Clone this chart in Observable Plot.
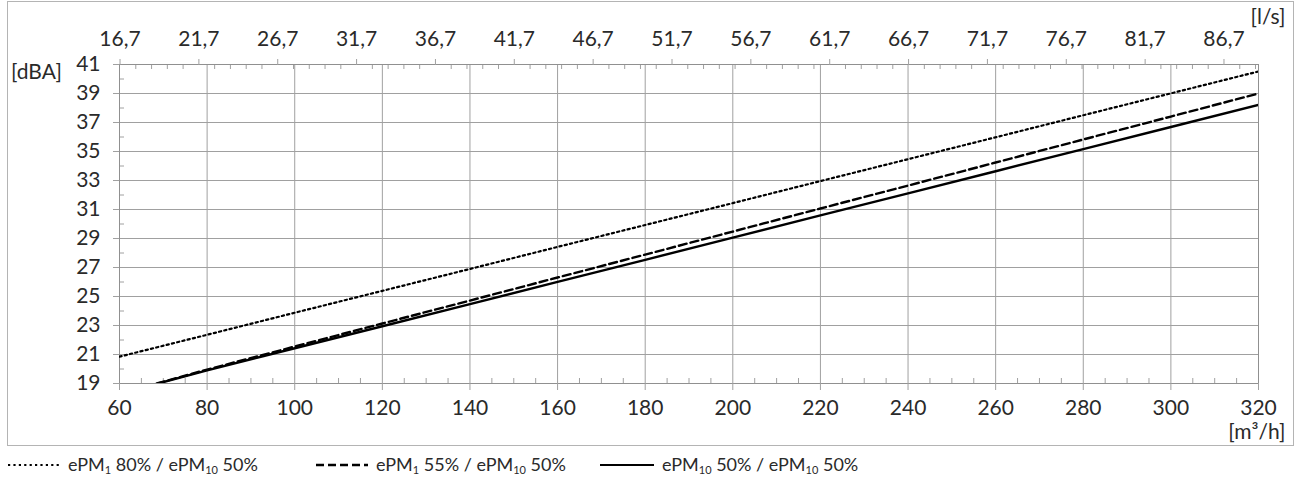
<!DOCTYPE html>
<html>
<head>
<meta charset="utf-8">
<script src="https://cdn.jsdelivr.net/npm/d3@7"></script>
<script src="https://cdn.jsdelivr.net/npm/@observablehq/plot@0.6"></script>
<style>
  html, body { margin: 0; padding: 0; background: #fff; }
  body { width: 1296px; height: 477px; position: relative; overflow: hidden; font-family: Lato, "Open Sans", sans-serif; color: #222; }
  #chart { position: absolute; left: 0; top: 0; }
  #outer { position: absolute; left: 7px; top: 1px; width: 1285px; height: 443px; border: 1px solid #b4b4b4; pointer-events: none; }
  .lg { position: absolute; top: 454px; height: 20px; line-height: 20px; display: flex; align-items: center; font-size: 18px; white-space: nowrap; color: #2a2a2a; }
  .lg svg { margin-right: 8px; }
  .lg sub { font-size: 11px; vertical-align: -3px; line-height: 0; }
</style>
</head>
<body>
<div id="chart"></div>
<div id="outer"></div>
<div id="legend"></div>
<script>
// ---- data ----
const xTicks = [60, 80, 100, 120, 140, 160, 180, 200, 220, 240, 260, 280, 300, 320];
const yTicks = [19, 21, 23, 25, 27, 29, 31, 33, 35, 37, 39, 41];
const topTicksLs = [16.7, 21.7, 26.7, 31.7, 36.7, 41.7, 46.7, 51.7, 56.7, 61.7, 66.7, 71.7, 76.7, 81.7, 86.7];
const lsToM3h = 3.6;

const flowDotted = [60, 80, 100, 120, 140, 160, 180, 200, 220, 240, 260, 280, 300, 320];
const dbaDotted  = [20.85, 22.36, 23.88, 25.39, 26.90, 28.42, 29.93, 31.44, 32.96, 34.47, 35.98, 37.50, 39.01, 40.52];

const flowDashed = [68.5, 80, 100, 120, 140, 160, 180, 200, 220, 240, 260, 280, 300, 320];
const dbaDashed  = [19.0, 19.96, 21.55, 23.14, 24.72, 26.31, 27.89, 29.48, 31.07, 32.65, 34.24, 35.83, 37.41, 39.00];

const flowSolid = [68.8, 80, 100, 120, 140, 160, 180, 200, 220, 240, 260, 280, 300, 320];
const dbaSolid  = [19.0, 19.90, 21.43, 22.95, 24.48, 26.01, 27.53, 29.06, 30.59, 32.11, 33.64, 35.16, 36.69, 38.22];

const seriesNames = ["ePM1 80% / ePM10 50%", "ePM1 55% / ePM10 50%", "ePM10 50% / ePM10 50%"];

// ---- derived tables ----
const toRows = (xs, ys) => xs.map((x, i) => ({x, y: ys[i]}));
const rowsDotted = toRows(flowDotted, dbaDotted);
const rowsDashed = toRows(flowDashed, dbaDashed);
const rowsSolid = toRows(flowSolid, dbaSolid);

const topTicksM = topTicksLs.map(d => d * lsToM3h);
const topMinorM = d3.range(17.7, 89, 1).filter(d => !topTicksLs.some(t => Math.abs(t - d) < 1e-6)).map(d => d * lsToM3h).filter(d => d <= 320);
const xMinor = d3.range(65, 320, 5).filter(d => d % 20 !== 0);
const yMinor = d3.range(20, 41, 2);

const fmtComma = d => (d / lsToM3h).toFixed(1).replace(".", ",");
const gridColor = "#a0a0a0";
const textColor = "#2a2a2a";
const FS = 21;

const chart = Plot.plot({
  width: 1296,
  height: 447,
  marginLeft: 119,
  marginRight: 38,
  marginTop: 64,
  marginBottom: 64,
  style: {fontFamily: "Lato, 'Open Sans', sans-serif", fontSize: FS + "px", background: "transparent", color: textColor},
  x: {domain: [60, 320], label: null},
  y: {domain: [19, 41], label: null},
  marks: [
    Plot.gridX(xTicks, {stroke: gridColor, strokeOpacity: 1}),
    Plot.gridY(yTicks, {stroke: gridColor, strokeOpacity: 1}),
    Plot.tickX(xMinor, {x: d => d, stroke: gridColor, insetTop: 314}),
    Plot.tickX(topMinorM, {x: d => d, stroke: gridColor, insetBottom: 314}),
    Plot.tickY(yMinor, {y: d => d, stroke: gridColor, insetRight: 1134}),
    Plot.frame({stroke: "#909090"}),
    Plot.axisX(xTicks, {anchor: "bottom", tickSize: 7, tickPadding: 10, stroke: gridColor, fill: textColor, fontSize: FS, label: null}),
    Plot.axisX(topTicksM, {anchor: "top", tickSize: 6, tickPadding: 13, tickFormat: fmtComma, stroke: gridColor, fill: textColor, fontSize: FS, label: null}),
    Plot.axisY(yTicks, {anchor: "left", tickSize: 6, tickPadding: 13, stroke: gridColor, fill: textColor, fontSize: FS, label: null}),
    Plot.line(rowsDotted, {x: "x", y: "y", stroke: "#000", strokeWidth: 2.2, strokeDasharray: "2.2,3.2", clip: true}),
    Plot.line(rowsDashed, {x: "x", y: "y", stroke: "#000", strokeWidth: 2.4, strokeDasharray: "8,4", clip: true}),
    Plot.line(rowsSolid, {x: "x", y: "y", stroke: "#000", strokeWidth: 2.4, clip: true}),
    Plot.text(["[dBA]"], {text: d => d, frameAnchor: "top-left", dx: -83, textAnchor: "middle", fontSize: FS, fill: textColor}),
    Plot.text(["[l/s]"], {text: d => d, frameAnchor: "top-right", dx: 27, dy: -55, textAnchor: "end", fontSize: FS, fill: textColor}),
    Plot.text(["[m³/h]"], {text: d => d, frameAnchor: "bottom-right", dx: 27, dy: 55, textAnchor: "end", fontSize: FS, fill: textColor})
  ]
});
document.getElementById("chart").appendChild(chart);

// ---- legend ----
const legendItems = [
  {name: seriesNames[0], dash: "2.2,3.2", width: 2.2, left: 8, sw: 52},
  {name: seriesNames[1], dash: "8,4", width: 2.4, left: 316, sw: 52},
  {name: seriesNames[2], dash: null, width: 2.2, left: 600, sw: 54}
];
const fmtName = s => s.replace(/ePM(\d+)/g, "ePM<sub>$1</sub>");
const lg = document.getElementById("legend");
legendItems.forEach(it => {
  const div = document.createElement("div");
  div.className = "lg";
  div.style.left = it.left + "px";
  div.innerHTML = `<svg width="${it.sw}" height="10"><line x1="0" x2="${it.sw}" y1="6" y2="6" stroke="#000" stroke-width="${it.width}" ${it.dash ? `stroke-dasharray="${it.dash}"` : ""}/></svg><span>${fmtName(it.name)}</span>`;
  lg.appendChild(div);
});
</script>
</body>
</html>
